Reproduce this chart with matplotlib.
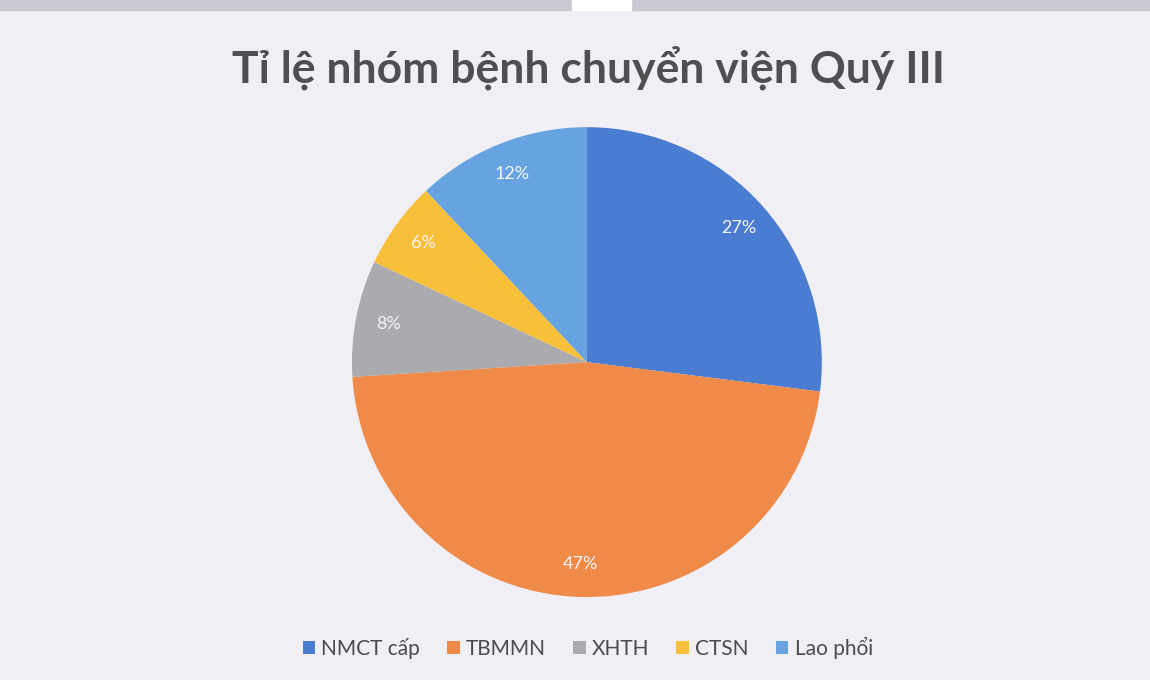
import matplotlib.pyplot as plt
from matplotlib.patches import Rectangle

# data
labels = ['NMCT cấp', 'TBMMN', 'XHTH', 'CTSN', 'Lao phổi']
values = [27, 47, 8, 6, 12]
colors = ['#4a7cd2', '#f08a48', '#aaaaaf', '#f7bf3a', '#67a3e0']
title = 'Tỉ lệ nhóm bệnh chuyển viện Quý III'

plt.rcParams['font.family'] = ['Lato', 'DejaVu Sans']

fig = plt.figure(figsize=(11.5, 6.8), dpi=100, facecolor='#efeff5')

# scanned page strip at the top
fig.patches.append(Rectangle((0, 1 - 10/680), 572/1150, 10/680,
                             transform=fig.transFigure, color='#c9c9d2', zorder=0))
fig.patches.append(Rectangle((631/1150, 1 - 10/680), 1 - 631/1150, 10/680,
                             transform=fig.transFigure, color='#c9c9d2', zorder=0))
fig.patches.append(Rectangle((572/1150, 1 - 10/680), 59/1150, 10/680,
                             transform=fig.transFigure, color='#ffffff', zorder=0))

ax = fig.add_axes([0.306, 0.122, 0.4087, 0.691])
ax.set_facecolor('none')
wedges, texts, autotexts = ax.pie(
    values, colors=colors, startangle=90, counterclock=False,
    autopct='%d%%', pctdistance=0.86, radius=1,
    wedgeprops=dict(linewidth=0),
    textprops=dict(color='#f4f4f8', fontsize=13))
ax.set_xlim(-1, 1)
ax.set_ylim(-1, 1)
ax.set_aspect('equal')

fig.text(0.512, 0.9, title, ha='center', va='center',
         fontsize=32, fontweight='bold', color='#4f4f52')

fig.legend(wedges, labels, loc='center', bbox_to_anchor=(0.511, 0.047),
           ncol=5, frameon=False, fontsize=15, handlelength=0.6,
           handleheight=0.6, handletextpad=0.3, columnspacing=1.3,
           labelcolor='#4a4a50')

fig.savefig('out.png', dpi=100, facecolor=fig.get_facecolor())
